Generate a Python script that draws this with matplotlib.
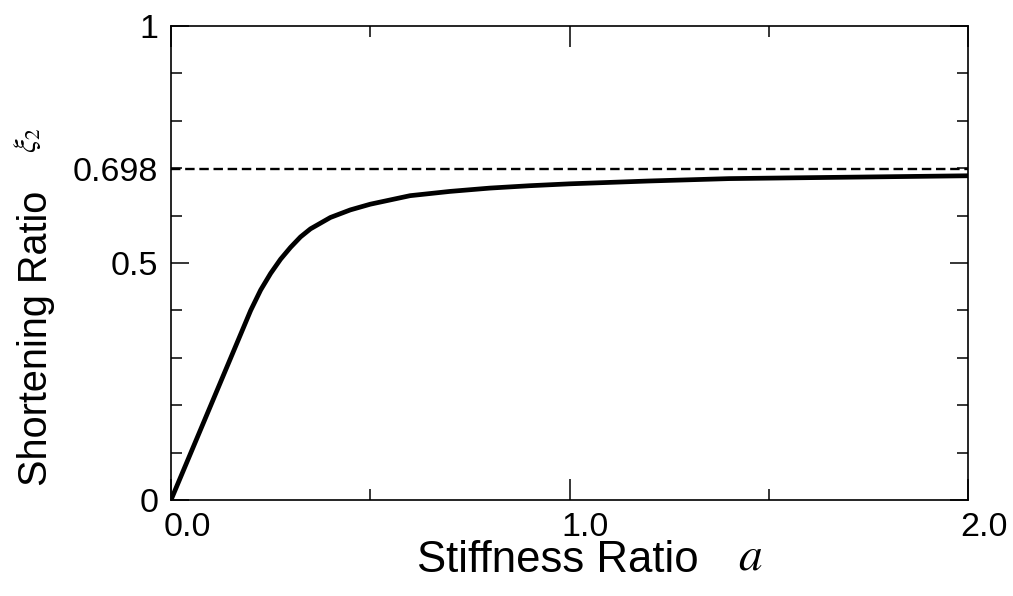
import matplotlib.pyplot as plt
import matplotlib.transforms as mtransforms

# curve
stiffness = [0.0, 0.05, 0.10, 0.15, 0.20, 0.225, 0.25, 0.275, 0.30, 0.325,
             0.35, 0.40, 0.45, 0.50, 0.60, 0.70, 0.80, 0.90, 1.00, 1.20,
             1.40, 1.60, 1.80, 2.00]
shortening = [0.0, 0.100, 0.200, 0.300, 0.400, 0.443, 0.478, 0.508, 0.533, 0.555,
              0.572, 0.596, 0.612, 0.624, 0.642, 0.651, 0.658, 0.663, 0.667, 0.673,
              0.678, 0.680, 0.682, 0.684]
limit_value = 0.698

x_major = [0.0, 1.0, 2.0]
x_major_labels = ['0.0', '1.0', '2.0']
x_minor = [0.5, 1.5]
y_major = [0.0, 0.5, limit_value, 1.0]
y_major_labels = ['0', '0.5', '0.698', '1']
y_minor = [0.1, 0.2, 0.3, 0.4, 0.6, 0.7, 0.8, 0.9]

plt.rcParams['font.family'] = ['Liberation Sans', 'DejaVu Sans']
plt.rcParams['mathtext.fontset'] = 'stix'

fig = plt.figure(figsize=(10.13, 5.96), dpi=100)
ax = fig.add_axes([0.1688, 0.1611, 0.7868, 0.7953])

ax.plot(stiffness, shortening, color='black', lw=3.4,
        solid_capstyle='round', solid_joinstyle='round')
ax.plot([0, 2], [limit_value, limit_value], color='black', lw=1.7, dashes=(4, 2))

ax.set_xlim(0, 2)
ax.set_ylim(0, 1)

for s in ax.spines.values():
    s.set_linewidth(1.2)

ax.set_xticks(x_major)
ax.set_xticklabels(x_major_labels)
ax.set_xticks(x_minor, minor=True)
ax.set_yticks(y_major)
ax.set_yticklabels(y_major_labels)
ax.set_yticks(y_minor, minor=True)

ax.tick_params(axis='both', which='both', direction='in', top=True, right=True,
               width=1.1)
ax.tick_params(axis='x', which='major', length=15, pad=9, labelsize=24.5)
ax.tick_params(axis='y', which='major', length=13, pad=9, labelsize=24.5)
ax.tick_params(axis='both', which='minor', length=8)

# the 0.698 label has no tick mark of its own
t = ax.yaxis.get_major_ticks()[2]
t.tick1line.set_visible(False)
t.tick2line.set_visible(False)

# x tick labels sit a bit to the right of their ticks
shift = mtransforms.ScaledTranslation(16 / 100, 0, fig.dpi_scale_trans)
for lab in ax.get_xticklabels():
    lab.set_transform(lab.get_transform() + shift)

fig.text(558 / 1013, 1 - 561 / 596, 'Stiffness Ratio', fontsize=31.5,
         ha='center', va='center')
fig.text(750 / 1013, 1 - 558 / 596, '$a$', fontsize=34, ha='center', va='center')
fig.text(36 / 1013, 1 - 338 / 596, 'Shortening Ratio', fontsize=28.5,
         rotation=90, ha='center', va='center')
fig.text(28 / 1013, 1 - 140 / 596, r'$\xi_2$', fontsize=22,
         rotation=90, ha='center', va='center')

fig.savefig('out.png', dpi=100)
